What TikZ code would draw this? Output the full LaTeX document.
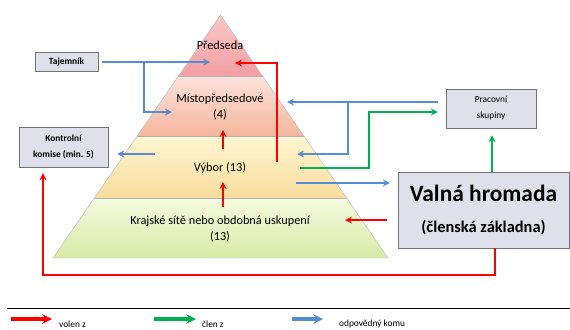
\documentclass[tikz,border=0pt]{standalone}
\usepackage{fontspec}
\setmainfont{Carlito}
\usepackage{tikz}
\usetikzlibrary{arrows}
\tikzset{>=stealth}
\usetikzlibrary{positioning,calc}

\definecolor{volen}{RGB}{255,0,0}
\definecolor{clen}{RGB}{0,176,80}
\definecolor{odpov}{RGB}{84,141,212}
\definecolor{boxfill}{RGB}{224,224,234}

\tikzset{box/.style={draw=black!55, fill=boxfill, align=center, inner sep=0pt},
  volenz/.style={->, draw=volen, line width=1.6pt},
  clenz/.style={->, draw=clen, line width=1.6pt},
  odpkomu/.style={->, draw=odpov, line width=1.6pt},
  pyrtext/.style={align=center, font=\fontsize{10.5}{13.6}\selectfont}}

\begin{document}
\begin{tikzpicture}[x=0.03cm, y=-0.03cm]

  \useasboundingbox (0,0) rectangle (570,329);

  % pyramid
  \coordinate (apex) at (220.5,15);
  \coordinate (bl) at (53,258);
  \coordinate (br) at (388,258);
  \coordinate (l1) at ($(apex)!0.251!(bl)$);
  \coordinate (r1) at ($(apex)!0.251!(br)$);
  \coordinate (l2) at ($(apex)!0.498!(bl)$);
  \coordinate (r2) at ($(apex)!0.498!(br)$);
  \coordinate (l3) at ($(apex)!0.753!(bl)$);
  \coordinate (r3) at ($(apex)!0.753!(br)$);

  \shade [top color={rgb,255:red,250;green,200;blue,200}, bottom color={rgb,255:red,243;green,158;blue,162}]
    (apex) -- (r1) -- (l1) -- cycle;
  \shade [top color={rgb,255:red,252;green,226;blue,218}, bottom color={rgb,255:red,245;green,182;blue,158}]
    (l1) -- (r1) -- (r2) -- (l2) -- cycle;
  \shade [top color={rgb,255:red,255;green,246;blue,210}, bottom color={rgb,255:red,249;green,220;blue,156}]
    (l2) -- (r2) -- (r3) -- (l3) -- cycle;
  \shade [top color={rgb,255:red,245;green,250;blue,224}, bottom color={rgb,255:red,216;green,234;blue,166}]
    (l3) -- (r3) -- (br) -- (bl) -- cycle;
  \draw [black!25] (apex) -- (br) -- (bl) -- cycle;
  \draw [black!30] (l1) -- (r1);
  \draw [black!30] (l2) -- (r2);
  \draw [black!30] (l3) -- (r3);

  \node [pyrtext] (predseda) at (220,45) {Předseda};
  \node [pyrtext] (mistopred) at (220,107) {Místopředsedové\\(4)};
  \node [pyrtext] (vybor) at (220,168) {Výbor (13)};
  \node [pyrtext] (krajske) at (220,229) {Krajské sítě nebo obdobná uskupení\\(13)};

  % boxes
  \node [box, minimum width=1.89cm, minimum height=0.57cm, font=\bfseries\fontsize{8}{10}\selectfont]
    (tajemnik) at (66.5,61.5) {Tajemník};
  \node [box, minimum width=2.67cm, minimum height=1.2cm, font=\bfseries\fontsize{8}{14}\selectfont]
    (kontrolni) at (63.5,147) {Kontrolní\\komise (min. 5)};
  \node [box, minimum width=2.7cm, minimum height=1.17cm, font=\fontsize{8}{13.6}\selectfont]
    (pracovni) at (491,108.5) {Pracovní\\skupiny};
  \node [box, minimum width=5.13cm, minimum height=2.28cm, font=\bfseries\fontsize{20}{27}\selectfont]
    (valna) at (483.5,210) {Valná hromada\\{\fontsize{14}{16}\selectfont (členská základna)}};

  % odpovedny komu
  \draw [odpkomu] ($(tajemnik.east)+(4,0.5)$) -- (210,62);
  \draw [odpkomu] (144,62) |- (172,112);
  \draw [odpkomu] ($(pracovni.west)+(-8,-6.5)$) -- (287,102);
  \draw [odpkomu] (348,102) |- (297,154);
  \draw [odpkomu] (155,154) -- ($(kontrolni.east)+(9,7)$);
  \draw [odpkomu] (296,183) -- ($(valna.west)+(-8,-27)$);

  % clen z
  \draw [clenz] (300,168) -| (369,112) -- ($(pracovni.west)+(-8,3.5)$);
  \draw [clenz] ($(valna.north)+(8.5,0)$) -- ($(pracovni.south)+(1,7)$);

  % volen z
  \draw [volenz] ($(valna.west)+(-11,10)$) -- (345,220);
  \draw [volenz] (223,207) -- (223,182);
  \draw [volenz] (223,149) -- (223,130);
  \draw [volenz] (277,162) |- (235,63);
  \draw [volenz] ($(valna.south)+(11.5,0)$) |- (43,275) -- ($(kontrolni.south)+(-20.5,6)$);

  % legend
  \draw [line width=0.8pt] (7,308) -- (570,308);
  \draw [volenz, line width=2.6pt] (11,319) -- (52,319);
  \draw [clenz, line width=2.6pt] (154,319) -- (196,319);
  \draw [odpkomu, line width=2.6pt] (292,319) -- (323,319);
  \node [anchor=west, font=\fontsize{8}{10}\selectfont] (lvolen) at (55,324) {volen z};
  \node [anchor=west, font=\fontsize{8}{10}\selectfont] (lclen) at (198,324) {člen z};
  \node [anchor=west, font=\fontsize{8}{10}\selectfont] (lodp) at (335,324) {odpovědný komu};

\end{tikzpicture}
\end{document}
